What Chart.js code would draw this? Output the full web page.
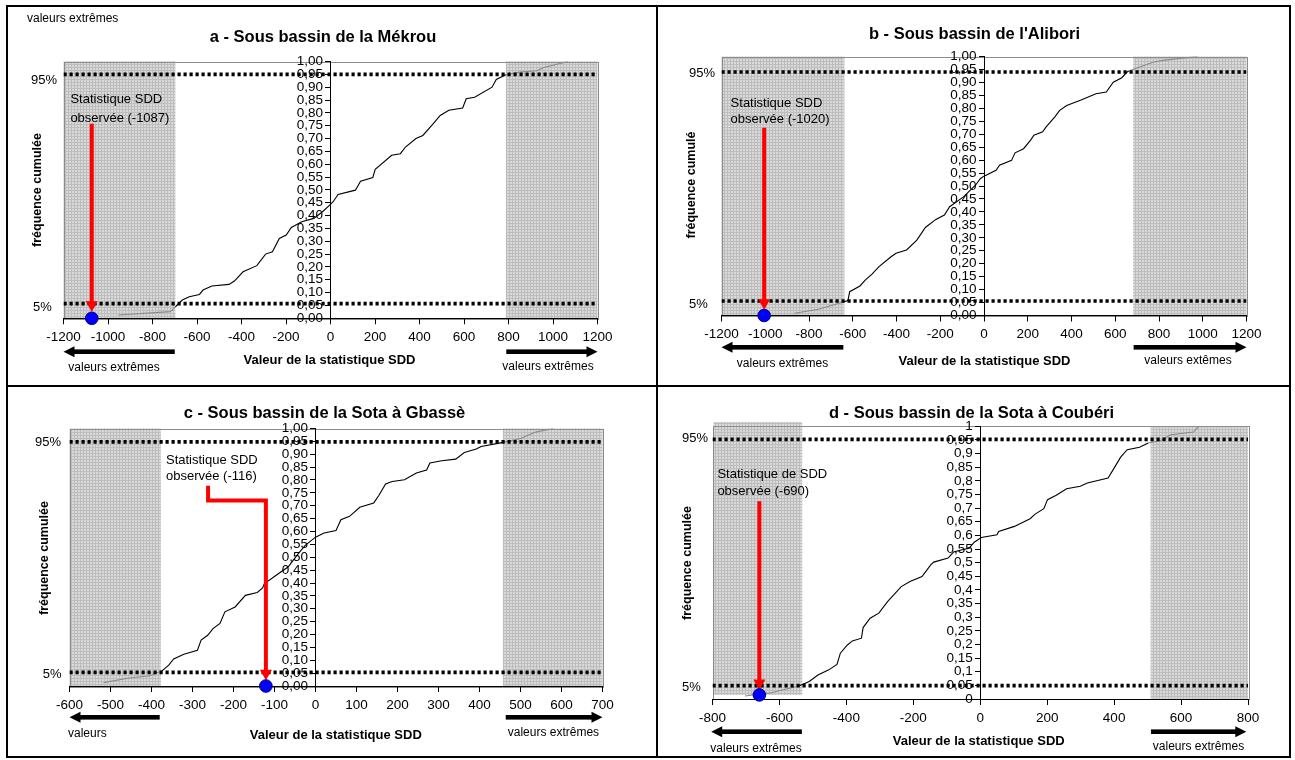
<!DOCTYPE html>
<html>
<head>
<meta charset="utf-8">
<script src="https://cdn.jsdelivr.net/npm/chart.js@4.4.1/dist/chart.umd.min.js"></script>
<style>
  body { margin: 0; background: #fff; width: 1295px; height: 760px; position: relative; overflow: hidden;
         font-family: "Liberation Sans", Arial, sans-serif; }
  .ln { position: absolute; background: #000; }
  canvas { position: absolute; }
  .t { position: absolute; white-space: nowrap; color: #000; line-height: 1; }
</style>
</head>
<body>
<div class="ln" style="left:6px;top:5px;width:1285px;height:2px"></div>
<div class="ln" style="left:6px;top:385px;width:1285px;height:2px"></div>
<div class="ln" style="left:6px;top:756px;width:1285px;height:2px"></div>
<div class="ln" style="left:6px;top:5px;width:2px;height:753px"></div>
<div class="ln" style="left:656px;top:5px;width:2px;height:753px"></div>
<div class="ln" style="left:1289px;top:5px;width:2px;height:753px"></div>

<canvas id="cA" width="648" height="378" style="left:8px;top:7px"></canvas>
<canvas id="cB" width="631" height="378" style="left:658px;top:7px"></canvas>
<canvas id="cC" width="648" height="369" style="left:8px;top:387px"></canvas>
<canvas id="cD" width="631" height="369" style="left:658px;top:387px"></canvas>

<script>
// ---- a - Mékrou : cumulative frequency of the SDD statistic
const sddA  = [-953, -720, -697, -666, -635, -589, -573, -533, -456, -432, -393, -331, -292, -261, -230,
               -199, -176, -129, -75, -36, -5, 11, 34, 112, 135, 190, 201, 275, 314, 337,
               384, 415, 462, 493, 532, 594, 610, 648, 726, 745, 788, 851, 928, 959, 1068];
const freqA = [0.013, 0.026, 0.045, 0.071, 0.084, 0.093, 0.11, 0.126, 0.132, 0.145, 0.181, 0.205, 0.25, 0.259, 0.311,
               0.324, 0.354, 0.376, 0.389, 0.415, 0.44, 0.453, 0.482, 0.499, 0.534, 0.548, 0.58, 0.635, 0.641, 0.667,
               0.70, 0.712, 0.758, 0.79, 0.81, 0.819, 0.855, 0.861, 0.90, 0.93, 0.948, 0.959, 0.964, 0.977, 1.0];

// ---- b - Alibori
const sddB  = [-866, -756, -646, -622, -614, -567, -543, -512, -480, -425, -402, -354, -307, -268, -220,
               -181, -157, -94, -39, -16, 0, 55, 71, 126, 142, 181, 213, 228, 268, 284,
               323, 346, 378, 441, 512, 559, 591, 630, 654, 662, 772, 819, 976];
const freqB = [0.009, 0.024, 0.051, 0.058, 0.092, 0.114, 0.137, 0.16, 0.189, 0.227, 0.24, 0.253, 0.291, 0.34, 0.371,
               0.388, 0.42, 0.458, 0.503, 0.529, 0.538, 0.561, 0.58, 0.599, 0.628, 0.644, 0.677, 0.696, 0.709, 0.728,
               0.766, 0.792, 0.811, 0.831, 0.856, 0.863, 0.901, 0.918, 0.94, 0.944, 0.978, 0.985, 1.0];

// ---- c - Sota à Gbassè
const sddC  = [-517, -458, -404, -375, -358, -346, -321, -288, -279, -263, -250, -233, -221, -196, -171,
               -142, -129, -125, -96, -67, -42, -25, 0, 21, 50, 62, 83, 108, 142, 154,
               171, 187, 217, 246, 271, 279, 308, 342, 363, 392, 404, 458, 500, 537, 580];
const freqC = [0.013, 0.03, 0.04, 0.058, 0.081, 0.105, 0.123, 0.139, 0.178, 0.197, 0.223, 0.243, 0.288, 0.307, 0.352,
               0.363, 0.381, 0.397, 0.43, 0.462, 0.514, 0.546, 0.578, 0.594, 0.604, 0.646, 0.659, 0.694, 0.711, 0.739,
               0.785, 0.794, 0.801, 0.827, 0.839, 0.866, 0.875, 0.881, 0.907, 0.92, 0.93, 0.946, 0.961, 0.986, 1.0];

// ---- d - Sota à Coubéri
const sddD  = [-703, -625, -542, -511, -485, -454, -428, -418, -397, -382, -355, -350, -329, -303, -277,
               -236, -210, -174, -148, -139, -96, -80, -54, -33, -18, 3, 50, 55, 102, 149,
               164, 190, 201, 227, 258, 299, 320, 382, 403, 419, 439, 476, 502, 538, 569, 637, 653];
const freqD = [0.011, 0.023, 0.048, 0.064, 0.088, 0.106, 0.127, 0.168, 0.198, 0.213, 0.223, 0.262, 0.296, 0.315, 0.357,
               0.412, 0.431, 0.449, 0.492, 0.502, 0.517, 0.539, 0.547, 0.553, 0.575, 0.592, 0.602, 0.614, 0.633, 0.661,
               0.678, 0.698, 0.731, 0.747, 0.771, 0.78, 0.792, 0.81, 0.853, 0.886, 0.914, 0.923, 0.939, 0.947, 0.969, 0.979, 1.0];

// x axis ranges [min, max, step]
const xRangeA = [-1200, 1200, 200];
const xRangeB = [-1200, 1200, 200];
const xRangeC = [-600, 700, 100];
const xRangeD = [-800, 800, 200];

// extreme-value zones [xFrom, xTo, yFrom, yTo]
const zonesA = [[-1200, -697, 0, 1], [788, 1200, 0, 1]];
const zonesB = [[-1200, -638, 0, 1], [682, 1200, 0, 1]];
const zonesC = [[-600, -377, 0, 1], [457, 700, 0, 1]];
const zonesD = [[-797, -532, 0.015, 1.016], [509, 800, 0, 1]];

// 95% and 5% limits as drawn
const limitsA = [0.95, 0.057];
const limitsB = [0.94, 0.056];
const limitsC = [0.948, 0.053];
const limitsD = [0.952, 0.049];

// observed statistic: red arrow path and blue point
const arrowXA = [-1073, -1073], arrowYA = [0.758, 0.053];
const arrowXB = [-1005, -1005], arrowYB = [0.725, 0.049];
const arrowXC = [-262, -262, -121, -121], arrowYC = [0.778, 0.72, 0.72, 0.05];
const arrowXD = [-660, -660], arrowYD = [0.725, 0.059];
const obsA = [-1073, 0], obsB = [-1005, 0], obsC = [-121, 0], obsD = [-660, 0.015];

// black "valeurs extrêmes" arrows under the x axis [from, to]
const underA = [[-700, -1200], [790, 1200]];
const underB = [[-643, -1200], [684, 1200]];
const underC = [[-380, -600], [464, 700]];
const underD = [[-533, -804], [510, 795]];

const FONT = '"Liberation Sans", Arial, sans-serif';
Chart.defaults.font.family = FONT;
Chart.defaults.color = '#000';
const AXIS_H = 30;

// fine grid texture of the shaded zones
const tile = document.createElement('canvas');
tile.width = 3; tile.height = 3;
const tc = tile.getContext('2d');
tc.fillStyle = '#d9d9d9'; tc.fillRect(0, 0, 3, 3);
tc.fillStyle = '#bdbdbd'; tc.fillRect(0, 0, 3, 1); tc.fillRect(0, 0, 1, 3);
const zonePattern = tc.createPattern(tile, 'repeat');

const zonePlugin = {
  id: 'zones',
  beforeDraw(chart, args, opts) {
    const { ctx, chartArea: a, scales: { x, y } } = chart;
    ctx.save();
    ctx.fillStyle = zonePattern;
    opts.zones.forEach(z => {
      const x0 = x.getPixelForValue(z[0]), x1 = x.getPixelForValue(z[1]);
      const y0 = y.getPixelForValue(z[3]), y1 = y.getPixelForValue(z[2]);
      ctx.fillRect(x0, y0, x1 - x0, y1 - y0);
    });
    ctx.strokeStyle = '#8c8c8c';
    ctx.lineWidth = 1;
    ctx.strokeRect(Math.round(a.left) + 0.5, Math.round(a.top) + 0.5, Math.round(a.width), Math.round(a.height));
    ctx.restore();
  }
};

const underPlugin = {
  id: 'under',
  afterDraw(chart, args, opts) {
    const { ctx, chartArea: a, scales: { x } } = chart;
    const yy = a.bottom + opts.offset;
    ctx.save();
    ctx.fillStyle = '#000';
    opts.arrows.forEach(([from, to]) => {
      const x0 = x.getPixelForValue(from), x1 = x.getPixelForValue(to);
      const dir = Math.sign(x1 - x0);
      const xs = x1 - dir * 10;
      ctx.fillRect(Math.min(x0, xs), yy - 2.3, Math.abs(xs - x0), 4.6);
      ctx.beginPath();
      ctx.moveTo(x1, yy);
      ctx.lineTo(x1 - dir * 11, yy - 5.5);
      ctx.lineTo(x1 - dir * 11, yy + 5.5);
      ctx.closePath();
      ctx.fill();
    });
    ctx.restore();
  }
};

function fmt(v, short) {
  const s = short ? String(+v.toFixed(2)) : v.toFixed(2);
  return s.replace('.', ',');
}

function makePanel(p) {
  const [xMin, xMax, xStep] = p.xRange;
  const pad = {
    left: p.plot[0] - p.box[0],
    top: p.plot[1] - p.box[1],
    right: p.box[0] + p.box[2] - p.plot[2],
    bottom: p.box[1] + p.box[3] - p.plot[3] - AXIS_H
  };
  const leftEnd = p.zones[0][1], rightStart = p.zones[1][0];
  const curve = p.sdd.map((v, i) => ({ x: v, y: p.freq[i] }));
  const limitSets = p.limits.map(l => ({
    data: [{ x: xMin, y: l }, { x: xMax, y: l }],
    borderColor: '#000', borderWidth: 3.6, borderDash: [3.2, 2.8], pointRadius: 0, order: 3
  }));
  const arrowPts = p.arrowX.map((v, i) => ({ x: v, y: p.arrowY[i] }));
  const headSizes = arrowPts.map((_, i) => i === arrowPts.length - 1 ? 7 : 0);

  new Chart(document.getElementById(p.canvas), {
    type: 'line',
    data: {
      datasets: [
        {
          data: curve, borderColor: '#000', borderWidth: 1.1, pointRadius: 0, tension: 0, order: 4,
          segment: {
            borderColor: c => {
              const m = (c.p0.parsed.x + c.p1.parsed.x) / 2;
              return (m < leftEnd || m > rightStart) ? '#8a8a8a' : '#000';
            }
          }
        },
        ...limitSets,
        {
          data: arrowPts, borderColor: '#ff0000', borderWidth: 4, tension: 0, order: 2, clip: false,
          pointRadius: headSizes, pointStyle: 'triangle', pointRotation: 180,
          pointBackgroundColor: '#ff0000', pointBorderColor: '#ff0000', pointBorderWidth: 0
        },
        {
          data: [{ x: p.obs[0], y: p.obs[1] }], showLine: false, order: 1, clip: false,
          pointRadius: 6.3, pointBackgroundColor: '#0000ff', pointBorderColor: '#000080', pointBorderWidth: 1
        }
      ]
    },
    options: {
      responsive: false,
      animation: false,
      events: [],
      layout: { padding: pad },
      plugins: {
        legend: { display: false },
        tooltip: { enabled: false },
        zones: { zones: p.zones },
        under: { arrows: p.under, offset: p.underOffset }
      },
      scales: {
        x: {
          type: 'linear', min: xMin, max: xMax, position: 'bottom',
          border: { color: '#000', width: 1 },
          grid: { drawOnChartArea: false, drawTicks: true, tickLength: 6, color: '#000' },
          ticks: { stepSize: xStep, autoSkip: false, maxRotation: 0, padding: 5, color: '#000',
                   font: { size: 13.5, family: FONT }, callback: v => String(v) },
          afterFit: s => { s.height = AXIS_H; }
        },
        y: {
          type: 'linear', min: 0, max: 1, position: { x: 0 },
          border: { color: '#000', width: 1 },
          grid: { drawOnChartArea: false, drawTicks: true, tickLength: 5, color: '#000' },
          ticks: { stepSize: 0.05, autoSkip: false, color: '#000', font: { size: 13.5, family: FONT },
                   callback: v => fmt(v, p.shortTicks) + '  ' }
        }
      }
    },
    plugins: [zonePlugin, underPlugin]
  });
}

makePanel({ canvas: 'cA', box: [8, 7, 648, 378], plot: [63.5, 61.5, 597.5, 318.3], xRange: xRangeA,
  sdd: sddA, freq: freqA, zones: zonesA, limits: limitsA, arrowX: arrowXA, arrowY: arrowYA, obs: obsA,
  under: underA, underOffset: 33.4 });
makePanel({ canvas: 'cB', box: [658, 7, 631, 378], plot: [721.5, 56.5, 1246.5, 315.5], xRange: xRangeB,
  sdd: sddB, freq: freqB, zones: zonesB, limits: limitsB, arrowX: arrowXB, arrowY: arrowYB, obs: obsB,
  under: underB, underOffset: 31.8 });
makePanel({ canvas: 'cC', box: [8, 387, 648, 369], plot: [69.5, 428.5, 602.5, 686], xRange: xRangeC,
  sdd: sddC, freq: freqC, zones: zonesC, limits: limitsC, arrowX: arrowXC, arrowY: arrowYC, obs: obsC,
  under: underC, underOffset: 31.3 });
makePanel({ canvas: 'cD', box: [658, 387, 631, 369], plot: [712.5, 426.3, 1248, 699], xRange: xRangeD,
  sdd: sddD, freq: freqD, zones: zonesD, limits: limitsD, arrowX: arrowXD, arrowY: arrowYD, obs: obsD,
  under: underD, underOffset: 32.7, shortTicks: true });

// texts around the plots
function txt(s, x, y, size, o = {}) {
  const d = document.createElement('div');
  d.className = 't';
  d.textContent = s;
  d.style.left = x + 'px';
  d.style.top = y + 'px';
  d.style.fontSize = size + 'px';
  if (o.bold) d.style.fontWeight = 'bold';
  let tr = o.left ? 'translate(0,-50%)' : 'translate(-50%,-50%)';
  if (o.rot) tr += ' rotate(-90deg)';
  d.style.transform = tr;
  document.body.appendChild(d);
}
const B = { bold: true }, L = { left: true };

// a
txt('valeurs extrêmes', 27, 17.7, 12, L);
txt('a - Sous bassin de la Mékrou', 323, 35.7, 16.5, B);
txt('95%', 31, 79.3, 13, L);
txt('5%', 33, 306, 13, L);
txt('fréquence cumulée', 36.5, 189.7, 12.5, { bold: true, rot: true });
txt('Statistique SDD', 70.4, 98.3, 13, L);
txt('observée (-1087)', 70.4, 116.7, 13, L);
txt('Valeur de la statistique SDD', 329.5, 359.3, 13, B);
txt('valeurs extrêmes', 114, 367.3, 12);
txt('valeurs extrêmes', 548, 366, 12);

// b
txt("b - Sous bassin de l'Alibori", 974.5, 32.7, 16.5, B);
txt('95%', 689, 71.7, 13, L);
txt('5%', 689, 302.7, 13, L);
txt('fréquence cumulé', 691, 185, 12.5, { bold: true, rot: true });
txt('Statistique SDD', 730.6, 101.7, 13, L);
txt('observée (-1020)', 730.6, 118.3, 13, L);
txt('Valeur de la statistique SDD', 984.5, 360, 13, B);
txt('valeurs extrêmes', 782.5, 363.3, 12);
txt('valeurs extêmes', 1188, 360, 12);

// c
txt('c - Sous bassin de la Sota à Gbassè', 324.5, 411.7, 16.5, B);
txt('95%', 35, 440.7, 13, L);
txt('5%', 42.7, 672.7, 13, L);
txt('fréquence cumulée', 43.5, 558.3, 12.5, { bold: true, rot: true });
txt('Statistique SDD', 166, 459, 13, L);
txt('observée (-116)', 166, 475, 13, L);
txt('Valeur de la statistique SDD', 335.8, 734.3, 13, B);
txt('valeurs', 87.3, 732.7, 12);
txt('valeurs extrêmes', 553.4, 732.3, 12);

// d
txt('d - Sous bassin de la Sota à Coubéri', 971.5, 411.7, 16.5, B);
txt('95%', 682, 437.3, 13, L);
txt('5%', 682, 685.7, 13, L);
txt('fréquence cumulée', 687, 563.3, 12.5, { bold: true, rot: true });
txt('Statistique de SDD', 717.4, 473, 13, L);
txt('observée (-690)', 717.4, 489.7, 13, L);
txt('Valeur de la statistique SDD', 978.7, 740, 13, B);
txt('valeurs extrêmes', 756, 748.3, 12);
txt('valeurs extrêmes', 1198.5, 745.7, 12);
</script>
</body>
</html>
